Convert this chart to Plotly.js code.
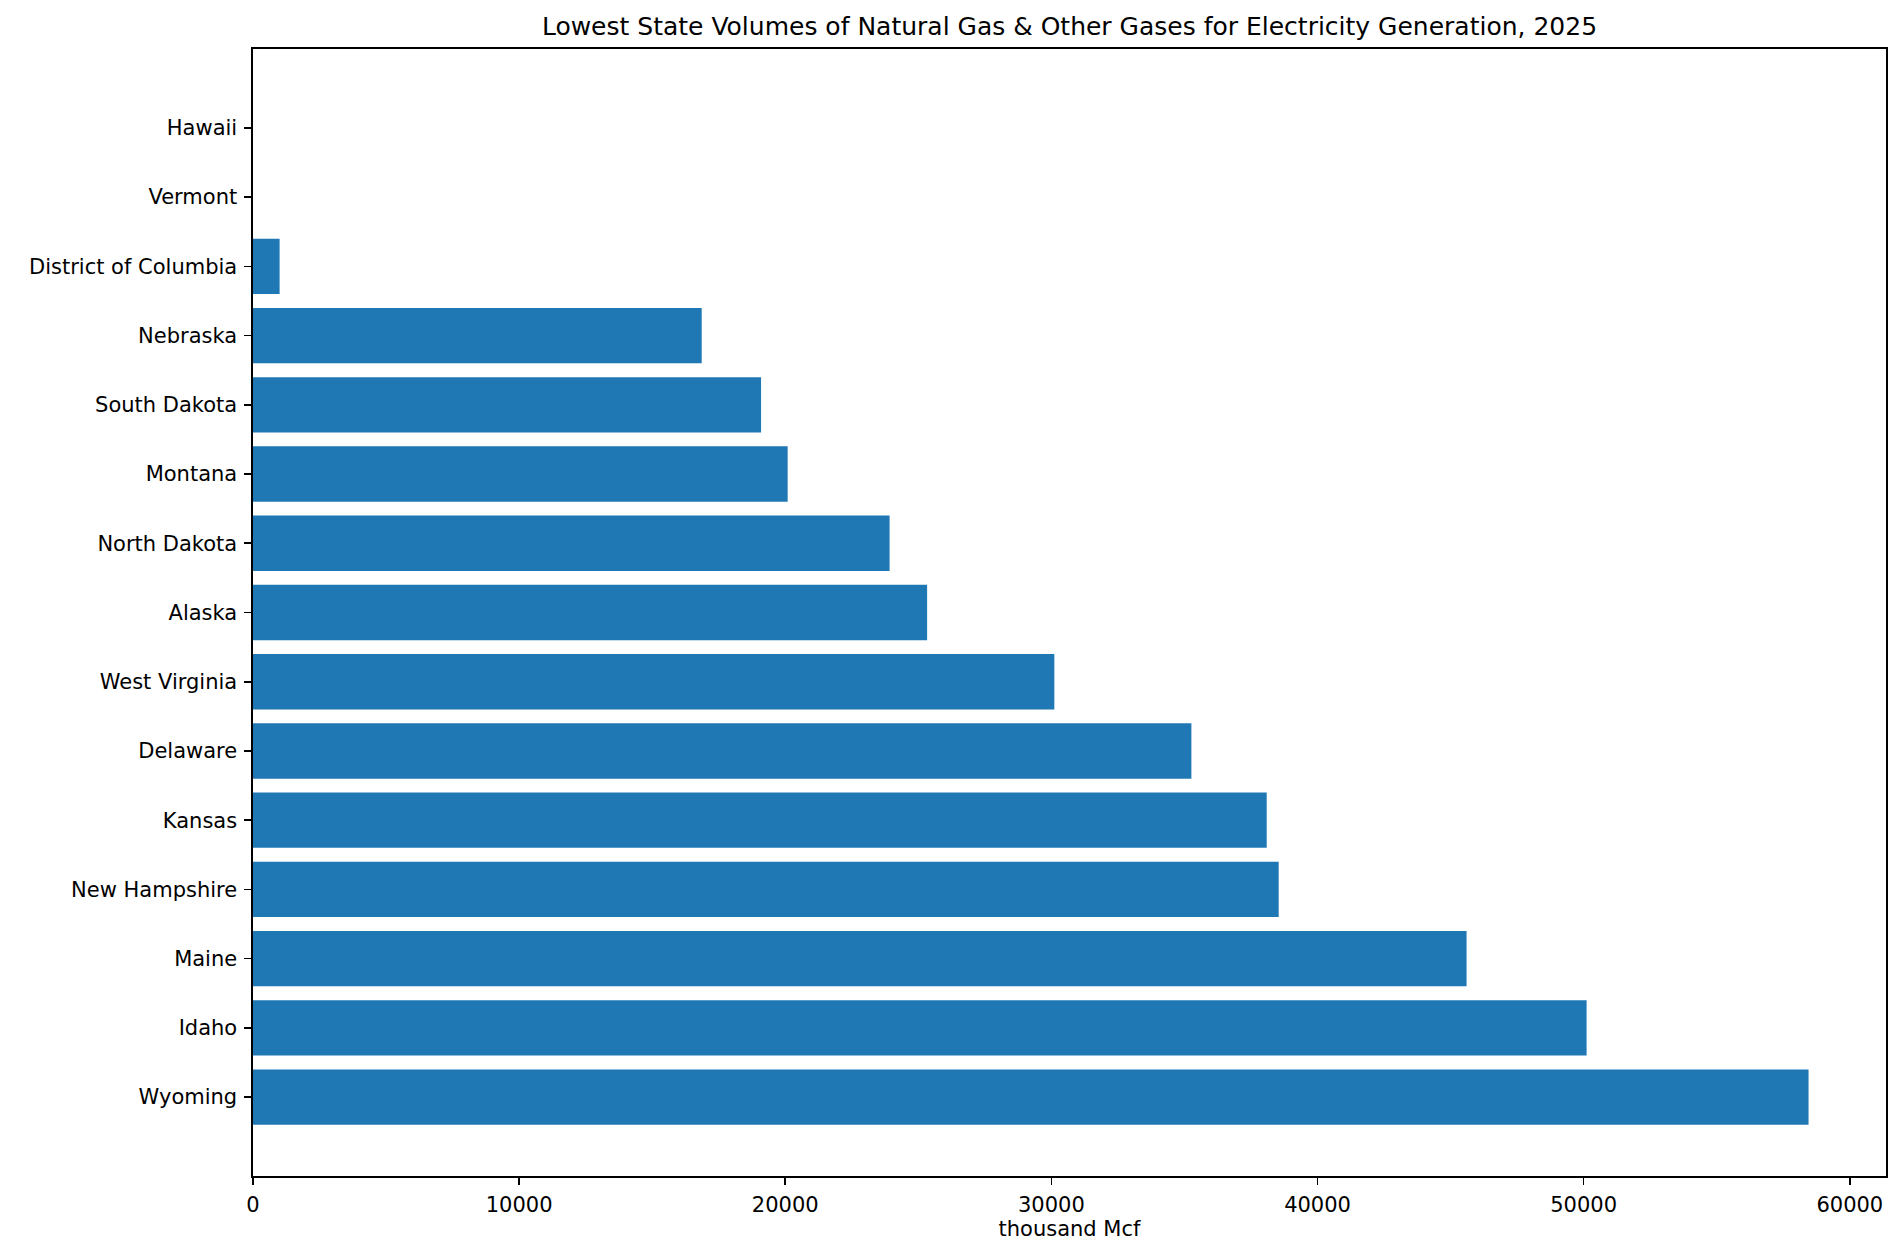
<!DOCTYPE html>
<html lang="en">
  <head>
    <meta charset="utf-8">
    <title>Lowest State Volumes</title>
    <script src="https://cdn.plot.ly/plotly-3.0.1.min.js" charset="utf-8"></script>
    <style>
      body { margin: 0; background: white; }
    </style>
  </head>
  <body>
    <div id="plot" style="width:1902px;height:1256px"></div>
    <script type="text/javascript">
      // top to bottom, as in the picture
      const states = ['Hawaii', 'Vermont', 'District of Columbia', 'Nebraska', 'South Dakota',
        'Montana', 'North Dakota', 'Alaska', 'West Virginia', 'Delaware', 'Kansas',
        'New Hampshire', 'Maine', 'Idaho', 'Wyoming'];
      const volumes = [0, 0, 1000, 16860, 19090, 20090, 23920, 25330, 30110, 35260, 38090,
        38540, 45600, 50110, 58450];
      const xTicks = [0, 10000, 20000, 30000, 40000, 50000, 60000];

      const FONT = 'DejaVu Sans, sans-serif';
      const BLUE = '#1f77b4';

      let trace = {
        type: 'bar',
        orientation: 'h',
        x: volumes,
        y: states,
        width: 0.8,
        marker: { color: BLUE, line: { width: 0 } },
        hoverinfo: 'x+y'
      };

      let layout = {
        width: 1902,
        height: 1256,
        margin: { l: 253, r: 16, t: 49, b: 80 },
        paper_bgcolor: 'white',
        plot_bgcolor: 'white',
        showlegend: false,
        font: { family: FONT, color: 'black', size: 21 },
        title: {
          text: 'Lowest State Volumes of Natural Gas & Other Gases for Electricity Generation, 2025',
          font: { family: FONT, size: 25, color: 'black' },
          x: 0.5, xanchor: 'center', xref: 'paper',
          y: 1 - 26.5 / 1256, yanchor: 'middle', yref: 'container'
        },
        xaxis: {
          range: [0, 61360],
          tickvals: xTicks,
          ticktext: xTicks.map(String),
          ticks: 'outside', ticklen: 7, tickwidth: 1.6, tickcolor: 'black',
          ticklabelstandoff: 2,
          showline: true, linecolor: 'black', linewidth: 1.6, mirror: true,
          showgrid: false, zeroline: false,
          tickfont: { family: FONT, size: 21, color: 'black' },
          title: { text: 'thousand Mcf', font: { family: FONT, size: 21, color: 'black' }, standoff: 4 }
        },
        yaxis: {
          type: 'category',
          range: [15.14, -1.14],
          ticks: 'outside', ticklen: 7, tickwidth: 1.6, tickcolor: 'black',
          ticklabelstandoff: 3,
          showline: true, linecolor: 'black', linewidth: 1.6, mirror: true,
          showgrid: false, zeroline: false,
          tickfont: { family: FONT, size: 21, color: 'black' }
        }
      };

      Plotly.newPlot(document.getElementById('plot'), [trace], layout, { displayModeBar: false, staticPlot: true });
    </script>
  </body>
</html>
